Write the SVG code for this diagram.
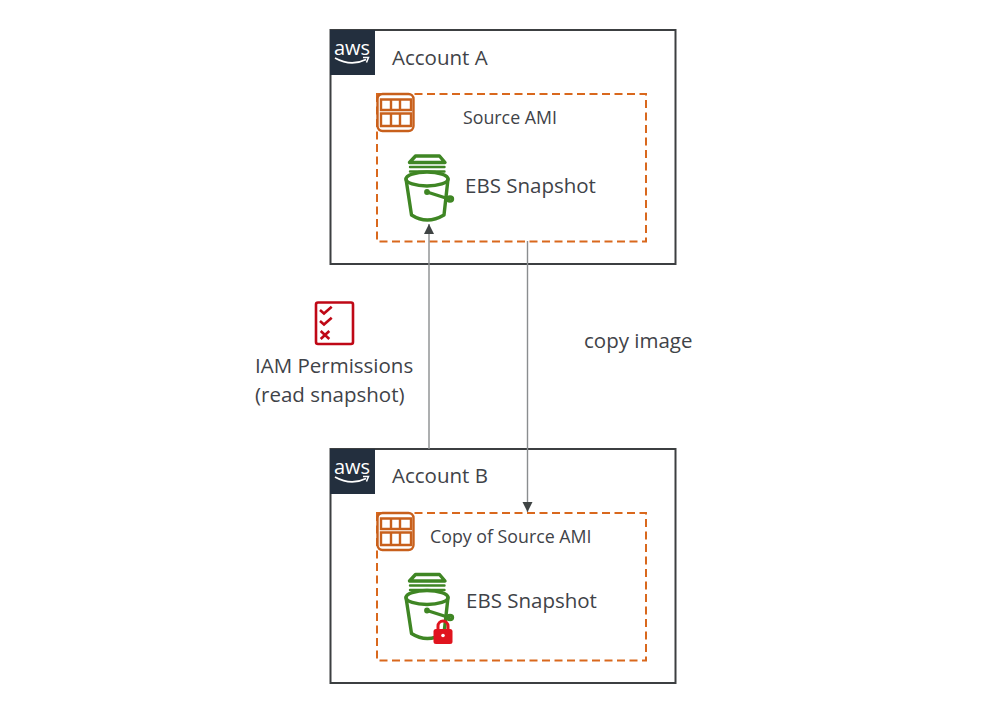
<svg xmlns="http://www.w3.org/2000/svg" xmlns:xlink="http://www.w3.org/1999/xlink" width="1003" height="715" viewBox="0 0 1003 715">
<style>
text{font-family:"Open Sans","Noto Sans","Liberation Sans",sans-serif;fill:#3f4348}
.acct{fill:#fff;stroke:#3c3f41;stroke-width:2}
.ami{fill:none;stroke:#d9681d;stroke-width:2;stroke-dasharray:8 4.5}
.conn{fill:none;stroke:#8a8d8f;stroke-width:1.4}
.g{fill:none;stroke:#3f8624;stroke-width:3.4;stroke-linejoin:round;stroke-linecap:round}
.o{fill:none;stroke:#c8601c;stroke-width:2.400}
.r{fill:none;stroke:#bf0816;stroke-width:2.600}
.t20{font-size:20.500px}.t18{font-size:17.800px}
</style>
<defs>
<marker id="ah" markerUnits="userSpaceOnUse" markerWidth="11" markerHeight="11" refX="10" refY="5.500" orient="auto" viewBox="0 0 11 11"><path d="M0 0.500L10 5.500L0 10.500Z" fill="#3f4444"/></marker>
<g id="aws">
<rect x="0" y="0" width="45" height="45" fill="#232f3e"/>
<text x="22" y="25" text-anchor="middle" style="font-family:'Open Sans',sans-serif;fill:#fff;font-size:20px">aws</text>
<path d="M5 28Q21 37 36 29.500" fill="none" stroke="#fff" stroke-width="1.800"/>
<path d="M33 27.500L38.500 27.500L36.500 32.500" fill="none" stroke="#fff" stroke-width="1.500"/>
</g>
<g id="ami">
<rect x="1.500" y="1" width="36" height="37" rx="5" class="o"/>
<path class="o" d="M5 6.500H35V17H5ZM15 6.500V17M24 6.500V17M5 20.500H35V33H5ZM15 20.500V33M24 20.500V33"/>
</g>
<g id="bucket">
<path class="g" d="M6.500 1H30.500L36 7.500H0.500Z"/>
<path class="g" d="M1 12H35.500M1 16.500H35.500" stroke-linecap="butt" style="stroke-width:2.400"/>
<ellipse class="g" cx="18" cy="24" rx="21" ry="7"/>
<path class="g" d="M-3 24L2.500 60Q18 70 35 60L39 24"/>
<path class="g" d="M18 37L40 44"/>
<circle class="g" cx="18" cy="37" r="1.200"/>
<ellipse class="g" cx="41" cy="44" rx="2.500" ry="2"/>
</g>
</defs>
<g id="account-a">
<rect class="acct" x="330.500" y="30" width="345" height="234"/>
<use xlink:href="#aws" href="#aws" x="330" y="30"/>
<text class="t20" x="392" y="65">Account A</text>
</g>
<g id="source-ami">
<rect class="ami" x="377" y="94" width="269" height="147.500"/>
<use xlink:href="#ami" href="#ami" x="376" y="93"/>
<text class="t18" x="463" y="124">Source AMI</text>
</g>
<g id="ebs-a">
<use xlink:href="#bucket" href="#bucket" x="409" y="155"/>
<text class="t20" x="465" y="193">EBS Snapshot</text>
</g>
<g id="iam">
<rect x="316" y="302.500" width="37" height="41.500" rx="2" class="r"/>
<path class="r" d="M320 310L324 313.500L331.700 306.700M320 321L324 324.500L331.700 317.700M320.700 331L329.300 339M329.300 331L320.700 339"/>
<text class="t20" x="255" y="373">IAM Permissions</text>
<text class="t20" x="255" y="402">(read snapshot)</text>
</g>
<g id="copy-label"><text class="t20" x="584" y="348">copy image</text></g>
<g id="account-b">
<rect class="acct" x="330.500" y="449" width="345" height="234"/>
<use xlink:href="#aws" href="#aws" x="330" y="449"/>
<text class="t20" x="392" y="483">Account B</text>
</g>
<g id="copy-ami">
<rect class="ami" x="377" y="513" width="269" height="147.500"/>
<use xlink:href="#ami" href="#ami" x="376" y="512"/>
<text class="t18" x="430" y="543">Copy of Source AMI</text>
</g>
<g id="ebs-b">
<use xlink:href="#bucket" href="#bucket" x="409" y="573.500"/>
<text class="t20" x="466" y="608">EBS Snapshot</text>
<path d="M438 631V626A5 5 0 0 1 448 626V631" fill="none" stroke="#e0141e" stroke-width="3"/>
<rect x="433.500" y="629" width="19" height="15" rx="2.500" fill="#e0141e"/>
<circle cx="443" cy="635.500" r="1.800" fill="#fff"/>
</g>
<g id="connectors">
<path class="conn" d="M429 449V224" marker-end="url(#ah)"/>
<path class="conn" d="M527.500 241V512" marker-end="url(#ah)"/>
</g>
</svg>
